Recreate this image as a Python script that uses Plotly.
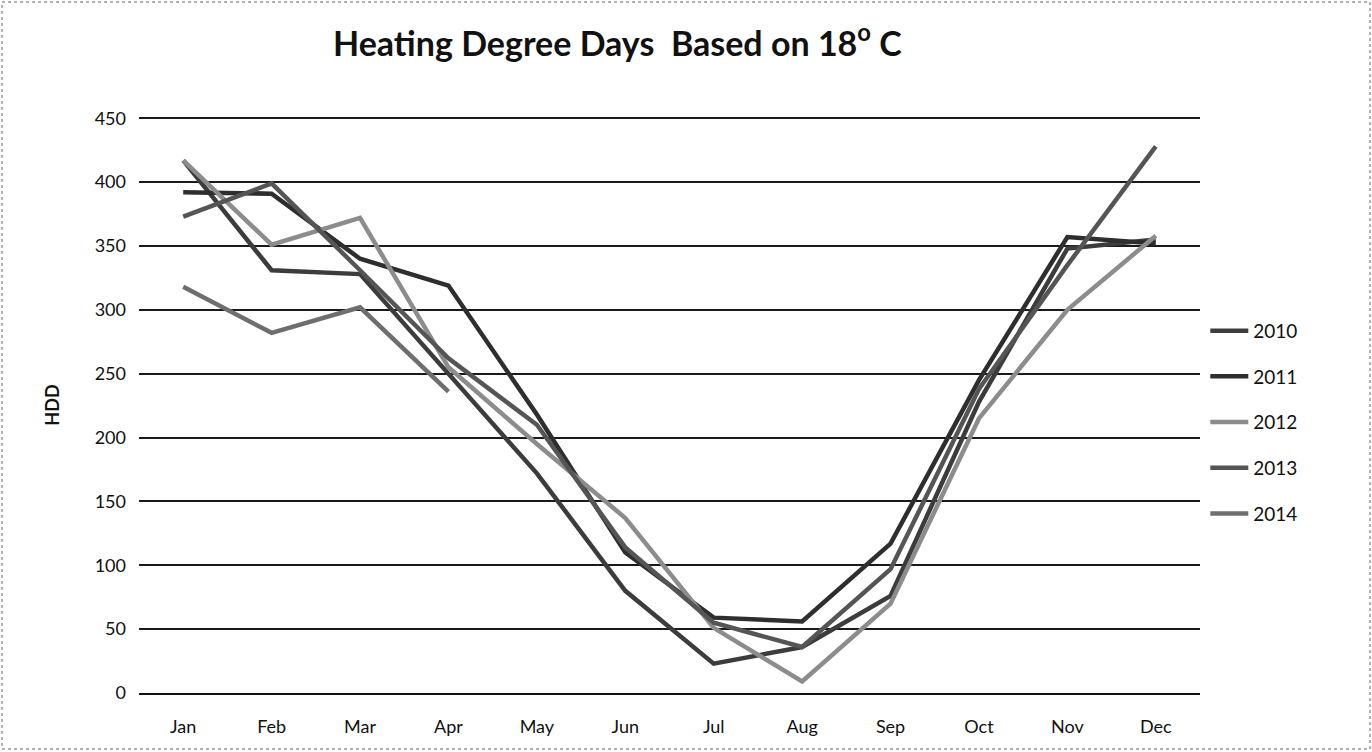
import plotly.graph_objects as go

months = ["Jan", "Feb", "Mar", "Apr", "May", "Jun", "Jul", "Aug", "Sep", "Oct", "Nov", "Dec"]
years = ["2010", "2011", "2012", "2013", "2014"]

hdd_2010 = [417, 331, 328, 250, 172, 80, 23, 36, 76, 228, 348, 355]
hdd_2011 = [392, 391, 340, 319, 218, 110, 59, 56, 117, 245, 357, 352]
hdd_2012 = [417, 351, 372, 255, 195, 137, 51, 9, 70, 215, 300, 358]
hdd_2013 = [373, 399, 331, 262, 210, 114, 55, 36, 97, 238, 335, 428]
hdd_2014 = [318, 282, 302, 236]

series = [hdd_2010, hdd_2011, hdd_2012, hdd_2013, hdd_2014]
colors = ["#3c3c3c", "#2e2e2e", "#8c8c8c", "#555555", "#6e6e6e"]

FONT = "Lato, Carlito, 'Liberation Sans', sans-serif"

fig = go.Figure()
for name, vals, col in zip(years, series, colors):
    fig.add_trace(go.Scatter(
        x=months[:len(vals)], y=vals, name=name, mode="lines",
        line=dict(color=col, width=4.5), legendgroup=name,
    ))

fig.update_layout(
    width=1372, height=752,
    paper_bgcolor="white", plot_bgcolor="white",
    margin=dict(l=139, r=172, t=117, b=59),
    font=dict(family=FONT, color="#111111", size=17),
    title=dict(text="<b>Heating Degree Days  Based on 18<sup>o</sup> C</b>",
               x=0.45, xanchor="center", y=0.942, yanchor="middle",
               font=dict(size=34, family=FONT, color="#111111")),
    showlegend=True,
    legend=dict(x=1.005, xanchor="left", y=0.47, yanchor="middle",
                font=dict(size=19, family=FONT, color="#111111"),
                traceorder="grouped", tracegroupgap=18, itemwidth=38,
                bgcolor="rgba(0,0,0,0)"),
)

fig.update_xaxes(
    type="category", categoryorder="array", categoryarray=months,
    showline=True, linecolor="#111111", linewidth=2,
    showgrid=False, ticks="", ticklabelstandoff=16,
    tickfont=dict(size=18, family=FONT, color="#111111"),
    range=[-0.5, 11.5],
)
fig.update_yaxes(
    range=[0, 451], tickvals=[0, 50, 100, 150, 200, 250, 300, 350, 400, 450],
    showgrid=True, gridcolor="#1a1a1a", gridwidth=2,
    zeroline=False, showline=False, ticklabelstandoff=12,
    tickfont=dict(size=18, family=FONT, color="#111111"),
    title=dict(text="<b>HDD</b>", font=dict(size=18, family=FONT, color="#111111"), standoff=30),
)

fig.add_shape(type="rect", xref="paper", yref="paper",
              x0=-137/1061, x1=(1061+170)/1061, y0=-56/576, y1=(576+115)/576,
              line=dict(color="#666666", width=1, dash="dot"))

fig.write_html("out.html", config={"displayModeBar": False},
               post_script="document.body.style.margin='0';")
